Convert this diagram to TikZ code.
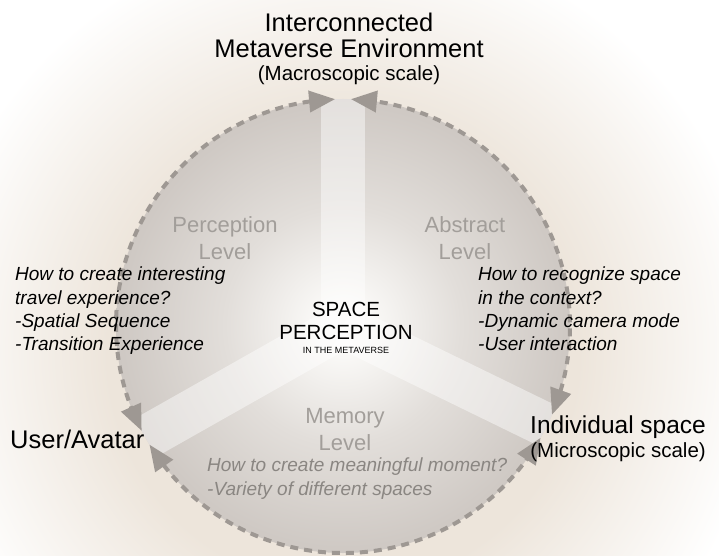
\documentclass[tikz,border=0pt]{standalone}
\usepackage{fontspec}
\setmainfont{Liberation Sans}
\usetikzlibrary{positioning}
\usetikzlibrary{arrows.meta}
\usetikzlibrary{bending}
\definecolor{glowBeige}{RGB}{237,229,219}
\definecolor{discIn}{RGB}{250,249,247}
\definecolor{discMid}{RGB}{226,222,218}
\definecolor{discOut}{RGB}{206,200,195}
\definecolor{dashGray}{RGB}{158,152,147}
\definecolor{levelGray}{RGB}{162,158,154}
\definecolor{memoGray}{RGB}{138,134,130}
\pgfdeclareradialshading{metaGlow}{\pgfpoint{0bp}{0bp}}{color(0bp)=(glowBeige); color(14bp)=(glowBeige); color(25bp)=(white); color(50bp)=(white)}
\pgfdeclareradialshading{discShade}{\pgfpoint{0bp}{0bp}}{color(0bp)=(discIn); color(3bp)=(discIn); color(13bp)=(discMid); color(25bp)=(discOut); color(50bp)=(discOut)}

\begin{document}
\begin{tikzpicture}[
    x=1pt, y=1pt,
    level arc/.style={
        draw=dashGray, line width=4pt, dash pattern=on 8pt off 6pt,
        {Triangle[length=26pt,width=21pt,fill=dashGray]}-{Triangle[length=26pt,width=21pt,fill=dashGray]}
    },
    band/.style={line width=44pt, white, opacity=0.45},
    place/.style={font=\fontsize{25.5}{26}\selectfont, inner sep=0pt, align=center},
    scale note/.style={font=\fontsize{20.5}{24}\selectfont, inner sep=0pt},
    level/.style={font=\fontsize{22}{27}\selectfont, text=levelGray, inner sep=0pt, align=center},
    question/.style={font=\fontsize{19}{23.3}\selectfont\itshape, inner sep=0pt, align=left, anchor=north west}
]
\useasboundingbox (0,0) rectangle (719,555);
\clip (0,0) rectangle (719,555);

\coordinate (C) at (343,229);

% glow and disc
\shade[shading=metaGlow] ([yshift=-25pt]C) circle[radius=420pt];
\shade[shading=discShade] (C) circle[radius=227pt];

\begin{scope}
\clip (C) circle[radius=227pt];
\path (C) ++(90:240) coordinate (bT);
\path (C) ++(209.5:240) coordinate (bL);
\path (C) ++(-26:240) coordinate (bR);
\foreach \e in {bT,bL,bR}
    \draw[band] (C) -- (\e);
\end{scope}

\path (C) ++(92:227) coordinate (tL);
\path (C) ++(211.5:227) coordinate (lB);
\path (C) ++(-23:227) coordinate (rT);

\draw[level arc] (tL) arc[start angle=92, end angle=207.5, radius=227pt];
\draw[level arc] (lB) arc[start angle=211.5, end angle=330.5, radius=227pt];
\draw[level arc] (rT) arc[start angle=-23, end angle=88, radius=227pt];

\node[place] (title) at (349,519.3) {Interconnected\\Metaverse Environment};
\node[scale note, below=7pt of title] (macro) {(Macroscopic scale)};

\node[place, anchor=base west] (user) at (10,107) {User/Avatar};
\node[place, font=\fontsize{24.5}{26}\selectfont, anchor=base west] (indiv) at (530,122) {Individual space};
\node[scale note, below=4pt of indiv] (micro) {(Microscopic scale)};

\node[level] (percLvl) at (225,316.5) {Perception\\Level};
\node[level] (abstLvl) at (465,316.5) {Abstract\\Level};
\node[level] (memLvl) at (345,125.5) {Memory\\Level};

\node[font=\fontsize{20.5}{23}\selectfont, inner sep=0pt, align=center] (spc) at (346,234) {SPACE\\PERCEPTION};
\node[font=\fontsize{9}{10}\selectfont, inner sep=0pt, below=7.5pt of spc] (inMeta) {IN THE METAVERSE};

\node[question] (percQ) at (15,288) {How to create interesting\\travel experience?\\-Spatial Sequence\\-Transition Experience};
\node[question] (abstQ) at (478,288) {How to recognize space\\in the context?\\-Dynamic camera mode\\-User interaction};
\node[question, text=memoGray, font=\fontsize{19}{23.5}\selectfont\itshape] (memQ) at (207,97) {How to create meaningful moment?\\-Variety of different spaces};
\end{tikzpicture}
\end{document}
